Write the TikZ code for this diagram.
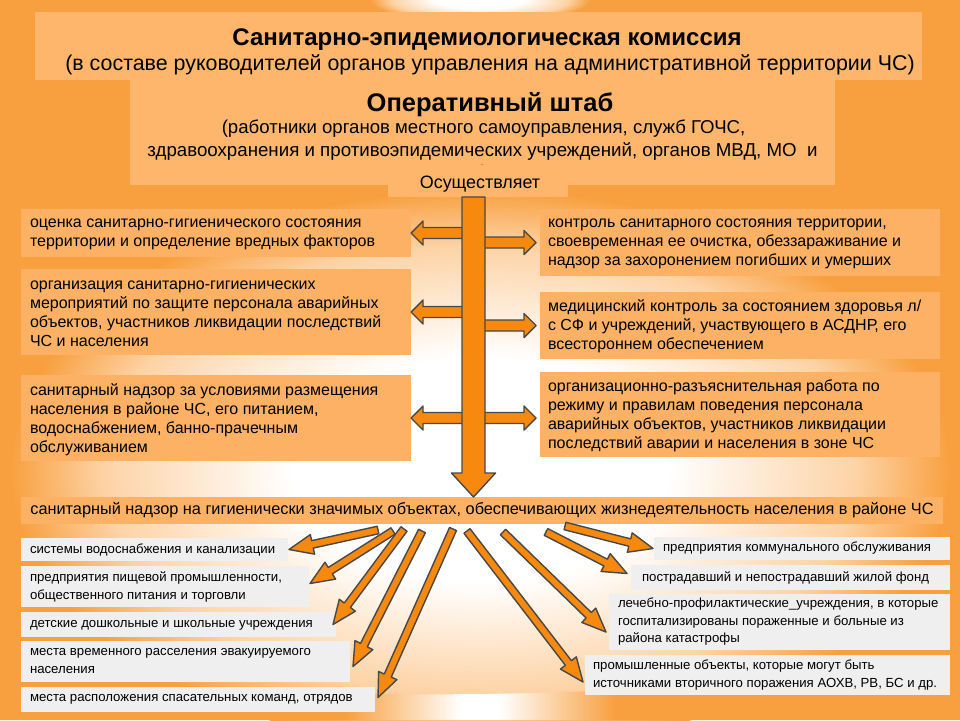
\documentclass[tikz,border=0pt]{standalone}
\usepackage{fontspec}
\setmainfont{Liberation Sans}
\usetikzlibrary{calc}
\definecolor{bgor}{HTML}{F8A03F}
\definecolor{lightor}{HTML}{FDD3A6}
\definecolor{boxor}{HTML}{FDB66C}
\definecolor{sideor}{HTML}{FCB164}
\definecolor{grayb}{HTML}{EFEFEF}
\definecolor{arrf}{HTML}{F7890F}
\definecolor{arrd}{HTML}{484848}
\pgfdeclareradialshading{glow}{\pgfpoint{0bp}{0bp}}{color(0bp)=(white); color(10bp)=(white); color(20bp)=(lightor); color(25bp)=(bgor); color(50bp)=(bgor)}
\pgfdeclarehorizontalshading{band}{100bp}{color(0bp)=(bgor); color(43bp)=(bgor); color(49bp)=(white); color(51bp)=(white); color(57bp)=(bgor); color(100bp)=(bgor)}
\newcommand\fatarrow[5]{%
  \coordinate (hbase) at ($(#2)!#5!(#1)$);
  \filldraw[arrowst] ($(#1)!#3!90:(#2)$) -- ($(hbase)!#3!-90:(#1)$) -- ($(hbase)!#4!-90:(#1)$) -- (#2)
    -- ($(hbase)!#4!90:(#1)$) -- ($(hbase)!#3!90:(#1)$) -- ($(#1)!#3!-90:(#2)$) -- cycle;}
\begin{document}
\begin{tikzpicture}[x=1pt,y=-1pt,
  every node/.style={inner sep=0pt, outer sep=0pt},
  hdrbox/.style={fill=boxor, draw=none},
  sidebox/.style={fill=sideor, draw=none},
  graybox/.style={fill=grayb, draw=none},
  sidetext/.style={anchor=west, align=left, font=\fontsize{16}{19}\selectfont},
  graytext/.style={anchor=west, align=left, font=\fontsize{13.2}{18}\selectfont},
  arrowst/.style={fill=arrf, draw=arrd, line width=1.4pt, line join=round}]
\useasboundingbox (0,0) rectangle (960,720);
\clip (0,0) rectangle (960,720);
% background
\fill[bgor] (0,0) rectangle (960,720);
\path[shading=glow] (480,470) ellipse [x radius=470, y radius=280];
\path[shading=glow] (480,0) ellipse [x radius=110, y radius=22];
\path[shading=band] (0,668) .. controls (320,708) and (640,700) .. (960,660) -- (960,720) -- (0,720) -- cycle;
% header
\node[hdrbox, minimum width=887pt, minimum height=68pt] (com) at (478.5,46) {};
\node[hdrbox, minimum width=705pt, minimum height=105pt] (shtab) at (482.5,132.5) {};
\node[hdrbox, minimum width=180pt, minimum height=32pt] (osu) at (478,181) {};
\node[anchor=base, font=\bfseries\fontsize{24}{28}\selectfont] (comt) at (487,45) {Санитарно-эпидемиологическая комиссия};
\node[anchor=base, font=\fontsize{21.4}{25}\selectfont] (coms) at (490,70) {(в составе руководителей органов управления на административной территории ЧС)};
\node[anchor=base, font=\bfseries\fontsize{25.5}{30}\selectfont] (sht) at (490,111) {Оперативный штаб};
\node[anchor=base, font=\fontsize{18.6}{22}\selectfont] (sh1) at (483.5,133) {(работники органов местного самоуправления, служб ГОЧС,};
\node[anchor=base, font=\fontsize{18.7}{22}\selectfont] (sh2) at (482.5,156) {здравоохранения и противоэпидемических учреждений, органов МВД, МО\ \ и};
\node[anchor=base, font=\fontsize{7}{8}\selectfont] (dot) at (482,165) {.};
\node[anchor=base, font=\fontsize{17.9}{21}\selectfont] (osut) at (480,188) {Осуществляет};
% side boxes
\node[sidebox, minimum width=390pt, minimum height=48pt] (l1) at (216,233) {};
\node[sidebox, minimum width=390pt, minimum height=86pt] (l2) at (216,312) {};
\node[sidebox, minimum width=390pt, minimum height=86pt] (l3) at (216,418) {};
\node[sidebox, minimum width=400pt, minimum height=67pt] (r1) at (740,242.5) {};
\node[sidebox, minimum width=400pt, minimum height=67pt] (r2) at (740,325.5) {};
\node[sidebox, minimum width=400pt, minimum height=85pt] (r3) at (740,414.5) {};
\node[sidetext] (l1t) at ($(l1.west)+(9,1)$) {оценка санитарно-гигиенического состояния\\территории и определение вредных факторов};
\node[sidetext] (l2t) at ($(l2.west)+(9,2)$) {организация санитарно-гигиенических\\мероприятий по защите персонала аварийных\\объектов, участников ликвидации последствий\\ЧС и населения};
\node[sidetext] (l3t) at ($(l3.west)+(9,2)$) {санитарный надзор за условиями размещения\\населения в районе ЧС, его питанием,\\водоснабжением, банно-прачечным\\обслуживанием};
\node[sidetext] (r1t) at ($(r1.west)+(8,1)$) {контроль санитарного состояния территории,\\своевременная ее очистка, обеззараживание и\\надзор за захоронением погибших и умерших};
\node[sidetext] (r2t) at ($(r2.west)+(8,1)$) {медицинский контроль за состоянием здоровья л/\\с СФ и учреждений, участвующего в АСДНР, его\\всестороннем обеспечением};
\node[sidetext] (r3t) at ($(r3.west)+(8,1)$) {организационно-разъяснительная работа по\\режиму и правилам поведения персонала\\аварийных объектов, участников ликвидации\\последствий аварии и населения в зоне ЧС};
% wide box
\node[sidebox, minimum width=922pt, minimum height=27pt, font=\fontsize{16.3}{19}\selectfont] (wide) at (482,510.5) {санитарный надзор на гигиенически значимых объектах, обеспечивающих жизнедеятельность населения в районе ЧС};
% gray boxes
\node[graybox, minimum width=267pt, minimum height=23pt] (b1) at (154.5,549.5) {};
\node[graybox, minimum width=288pt, minimum height=41pt] (b2) at (165,586.5) {};
\node[graybox, minimum width=315pt, minimum height=25pt] (b3) at (178.5,624.5) {};
\node[graybox, minimum width=329pt, minimum height=41pt] (b4) at (185.5,661.5) {};
\node[graybox, minimum width=354pt, minimum height=25pt] (b5) at (198,699.5) {};
\node[graybox, minimum width=296pt, minimum height=23pt] (rb1) at (802,548.5) {};
\node[graybox, minimum width=319pt, minimum height=25pt] (rb2) at (790.5,577.5) {};
\node[graybox, minimum width=341pt, minimum height=56pt] (rb3) at (779.5,622) {};
\node[graybox, minimum width=365pt, minimum height=40pt] (rb4) at (767.5,675) {};
\node[graytext] (b1t) at ($(b1.west)+(9,0)$) {системы водоснабжения и канализации};
\node[graytext] (b2t) at ($(b2.west)+(9,0)$) {предприятия пищевой промышленности,\\общественного питания и торговли};
\node[graytext] (b3t) at ($(b3.west)+(9,1)$) {детские дошкольные и школьные учреждения};
\node[graytext] (b4t) at ($(b4.west)+(9,0)$) {места временного расселения эвакуируемого\\населения};
\node[graytext] (b5t) at ($(b5.west)+(9,0)$) {места расположения спасательных команд, отрядов};
\node[graytext] (rb1t) at ($(rb1.west)+(9,0)$) {предприятия коммунального обслуживания};
\node[graytext] (rb2t) at ($(rb2.west)+(11,0)$) {пострадавший и непострадавший жилой фонд};
\node[graytext, font=\fontsize{13.2}{17.5}\selectfont] (rb3t) at ($(rb3.west)+(9,0)$) {лечебно-профилактические\_учреждения, в которые\\госпитализированы пораженные и больные из\\района катастрофы};
\node[graytext] (rb4t) at ($(rb4.west)+(8,0)$) {промышленные объекты, которые могут быть\\источниками вторичного поражения АОХВ, РВ, БС и др.};
% horizontal arrows
\coordinate (mA) at ($(osu.south)+(-4.5,0)$);
\coordinate (mB) at (mA |- wide.north);
\coordinate (h1a) at (mA |- l1.east);
\coordinate (h2a) at (mA |- l2.east);
\coordinate (h3a) at (mA |- l3.east);
\coordinate (k1a) at (mA |- r1.west);
\coordinate (k2a) at (mA |- r2.west);
\coordinate (k1t) at ($(r1.west)+(-4,0)$);
\coordinate (k2t) at ($(r2.west)+(-4,0)$);
\coordinate (k3t) at ($(r3.west |- l3.east)+(-4,0)$);
\fatarrow{h1a}{l1.east}{5.5pt}{12pt}{12pt}
\fatarrow{h2a}{l2.east}{5.5pt}{12pt}{12pt}
\fatarrow{h3a}{l3.east}{5.5pt}{12pt}{12pt}
\fatarrow{k1a}{k1t}{5.5pt}{12pt}{12pt}
\fatarrow{k2a}{k2t}{5.5pt}{12pt}{12pt}
\fatarrow{h3a}{k3t}{5.5pt}{12pt}{12pt}
% main arrow
\fatarrow{mA}{mB}{11.5pt}{22pt}{24pt}
% diagonal arrows
\coordinate (t1) at (378,530);
\coordinate (t2) at (393,531);
\coordinate (t3) at (404,529);
\coordinate (t4) at (422,531);
\coordinate (t5) at (453,529);
\coordinate (t6) at (467,531);
\coordinate (t7) at (503,532);
\coordinate (t8) at (546,532);
\coordinate (t9) at (565,526);
\coordinate (e1) at ($(b1.east)+(1,0)$);
\coordinate (e2) at ($(b2.east)+(1,-3)$);
\coordinate (e3) at ($(b3.east)+(-3,0)$);
\coordinate (e4) at ($(b4.east)+(3,5)$);
\coordinate (e5) at ($(b5.east)+(3,-2)$);
\coordinate (e6) at ($(rb4.west)+(-2,7)$);
\coordinate (e7) at ($(rb3.west)+(-3,10)$);
\coordinate (e8) at ($(rb2.west)+(-4,-4)$);
\coordinate (e9) at ($(rb1.west)+(-1,0)$);
\foreach \i in {1,...,9}{\fatarrow{t\i}{e\i}{3.8pt}{10pt}{24pt}}
\end{tikzpicture}
\end{document}
